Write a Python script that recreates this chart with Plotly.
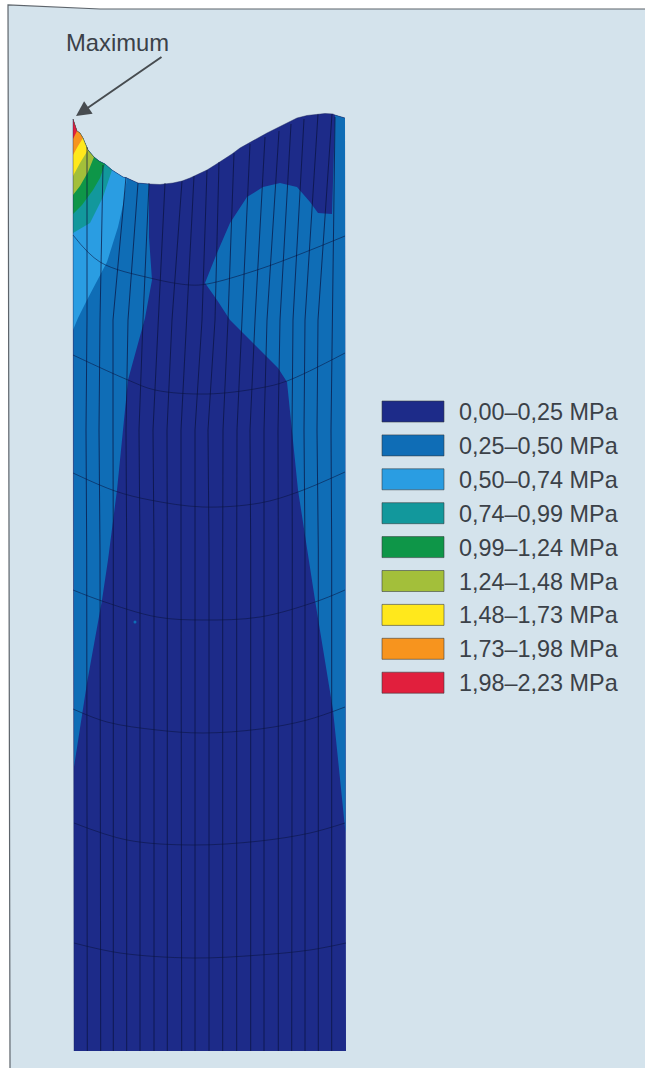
import plotly.graph_objects as go

W, H = 645, 1068
PAGE_BG = "#d4e3ec"
TEXT = "#3b4148"

LEGEND_LABELS = ["0,00–0,25 MPa", "0,25–0,50 MPa", "0,50–0,74 MPa", "0,74–0,99 MPa", "0,99–1,24 MPa",
                 "1,24–1,48 MPa", "1,48–1,73 MPa", "1,73–1,98 MPa", "1,98–2,23 MPa"]
BAND_COLORS = ["#1d2b89", "#0f6db6", "#2a9de2", "#12989c", "#0e9648",
               "#a3bf3a", "#ffe81c", "#f7941e", "#e11f3d"]

# Upper edge of the deformed section
OUT_X = [73, 75, 77, 80, 83, 88, 94, 99, 105, 112, 118, 123, 127, 138, 149, 160, 173, 182, 190, 199, 207, 215, 223,
         232, 240, 249, 257, 267, 277, 287, 297, 307, 317, 325, 333, 335, 345]
OUT_Y = [119, 125, 131, 133, 138, 150, 157, 161, 164, 170, 174, 177, 178, 183, 184, 184.5, 183, 181, 178, 174, 170,
         165, 160, 154, 148, 143, 138, 133, 128, 123, 118, 115.5, 114, 113.5, 114, 115, 118]
# Outer section, lower edge (left bottom, right bottom)
BOTTOM_X = [346, 74]
BOTTOM_Y = [1051, 1051]

# Stress-band borders: index of the upper-edge point where each begins, then the lower border
RED_END, RED_X, RED_Y = 3, [73], [139]
ORANGE_END, ORANGE_X, ORANGE_Y = 5, [78, 73], [146, 155]
YELLOW_END, YELLOW_X, YELLOW_Y = 6, [80, 73], [163, 176]
LIME_END, LIME_X, LIME_Y = 7, [88, 80, 73], [172, 186, 195]
GREEN_END, GREEN_X, GREEN_Y = 9, [100, 93, 82, 73], [178, 190, 205, 214]
TEAL_END, TEAL_X, TEAL_Y = 10, [108, 103, 90, 73], [182, 197, 223, 233]
LIGHT_END, LIGHT_X, LIGHT_Y = 13, [123, 118, 107, 87, 78, 73], [205, 227, 262, 300, 318, 330]
BLUE_L_END = 15
BLUE_L_X = [149, 149, 152, 148, 145, 128, 117, 108, 102, 87, 74]
BLUE_L_Y = [184, 237, 280, 300, 318, 380, 490, 560, 600, 683, 767]
# Right-hand band, clockwise from the top-right sliver
BLUE_R_X = [335, 345, 345.5, 342, 333, 315, 307, 298, 287, 278, 253, 230, 217, 205, 217, 230, 247, 263, 280, 297, 310,
            318, 332]
BLUE_R_Y = [115, 118, 833, 800, 710, 600, 550, 490, 382, 368, 343, 320, 300, 283, 253, 223, 197, 187, 183, 187, 202,
            213, 214]

# Mesh: 19 long lines, x read at y of the upper edge, 320, 430, 550, 1051
MESH_TOP_X = [87, 103, 126, 138, 149, 165, 182, 194, 207, 219, 234, 250, 265, 279, 291, 304, 318, 332, 335]
MESH_TOP_Y = [147, 165, 177, 183, 183, 183, 181, 176, 170, 162, 153, 144, 137, 131, 124, 119, 114, 114, 117]
MESH_320_X = [87, 100, 113, 128, 143, 158, 172, 187, 202, 215, 228, 242, 255, 267, 280, 293, 305, 318, 332]
MESH_430_X = [86, 99, 113, 126, 139, 153, 167, 181, 195, 208, 223, 237, 250, 264, 278, 292, 304, 317, 331]
MESH_550_X = [86.7, 100, 113.3, 126.7, 140, 154, 167.3, 181, 195, 209, 222.7, 236.7, 250.7, 264, 278.3, 292.3, 305,
              318.3, 331.7]
MESH_BOT_X = [87.3, 100.7, 113.3, 126.7, 140, 154, 167.3, 181.7, 195, 209, 222.7, 236.7, 250.7, 264, 278.3, 291.7,
              305, 318.3, 331.7]
MESH_LEVEL_Y = [320, 430, 550, 1051]

# Mesh: 7 cross arcs
ARCS_X = [
    [73, 100, 150, 190, 207, 257, 303, 345],
    [73, 128, 155, 207, 260, 287, 345],
    [73, 115, 150, 203, 260, 298, 345],
    [73, 102, 157, 203, 260, 315, 345],
    [73, 107, 157, 203, 260, 307, 345],
    [74, 127, 193, 260, 310, 345],
    [74, 120, 193, 260, 310, 346],
]
ARCS_Y = [
    [235, 262, 278, 285, 284, 270, 253, 236],
    [355, 380, 390, 394, 388, 381, 353],
    [473, 491, 500, 507, 503, 492, 472],
    [590, 601, 617, 620, 617, 602, 590],
    [709, 722, 730, 733, 729, 720, 707],
    [823, 840, 845, 841, 833, 823],
    [943, 953, 958, 955, 950, 943],
]

# Scanned page area and its visible top and left edges
PAGE_X = [8, 100, 645, 645, 10]
PAGE_Y = [5, 9, 9, 1068, 1068]
PAGE_EDGE_X = [10, 8, 100, 645]
PAGE_EDGE_Y = [1068, 5, 9, 9]

# A stray blue fleck in the navy area
FLECK_X, FLECK_Y = [135], [622]

fig = go.Figure()


def poly(xs, ys, color, line=None, width=0):
    fig.add_trace(go.Scatter(x=xs, y=ys, mode="lines", fill="toself", fillcolor=color,
                             line=dict(color=line or color, width=width), hoverinfo="skip", showlegend=False))


poly(PAGE_X, PAGE_Y, PAGE_BG)
fig.add_trace(go.Scatter(x=PAGE_EDGE_X, y=PAGE_EDGE_Y, mode="lines", line=dict(color="#5d646b", width=1.2),
                         hoverinfo="skip", showlegend=False))
poly(OUT_X + BOTTOM_X + [73], OUT_Y + BOTTOM_Y + [119], BAND_COLORS[0])
poly(OUT_X[:BLUE_L_END] + BLUE_L_X, OUT_Y[:BLUE_L_END] + BLUE_L_Y, BAND_COLORS[1])
poly(BLUE_R_X, BLUE_R_Y, BAND_COLORS[1])
for end, bx, by, col in [
    (LIGHT_END, LIGHT_X, LIGHT_Y, BAND_COLORS[2]),
    (TEAL_END, TEAL_X, TEAL_Y, BAND_COLORS[3]),
    (GREEN_END, GREEN_X, GREEN_Y, BAND_COLORS[4]),
    (LIME_END, LIME_X, LIME_Y, BAND_COLORS[5]),
    (YELLOW_END, YELLOW_X, YELLOW_Y, BAND_COLORS[6]),
    (ORANGE_END, ORANGE_X, ORANGE_Y, BAND_COLORS[7]),
    (RED_END, RED_X, RED_Y, BAND_COLORS[8]),
]:
    poly(OUT_X[:end] + bx, OUT_Y[:end] + by, col)

MESH = "rgba(10,18,62,0.8)"
ARC = "rgba(10,18,62,0.6)"
for i in range(len(MESH_TOP_X)):
    fig.add_trace(go.Scatter(
        x=[MESH_TOP_X[i], MESH_320_X[i], MESH_430_X[i], MESH_550_X[i], MESH_BOT_X[i]],
        y=[MESH_TOP_Y[i]] + MESH_LEVEL_Y,
        mode="lines", line=dict(color=MESH, width=0.9), hoverinfo="skip", showlegend=False))
for ax, ay in zip(ARCS_X, ARCS_Y):
    fig.add_trace(go.Scatter(x=ax, y=ay, mode="lines", line=dict(color=ARC, width=0.9, shape="spline"),
                             hoverinfo="skip", showlegend=False))
fig.add_trace(go.Scatter(x=FLECK_X, y=FLECK_Y, mode="markers", marker=dict(color=BAND_COLORS[1], size=3),
                         hoverinfo="skip", showlegend=False))
# Edge of the section
fig.add_trace(go.Scatter(x=OUT_X, y=OUT_Y, mode="lines", line=dict(color="rgba(25,35,90,0.55)", width=0.8),
                         hoverinfo="skip", showlegend=False))
fig.add_trace(go.Scatter(x=[73, 74], y=[119, 1051], mode="lines", line=dict(color="rgba(25,35,90,0.5)", width=0.8),
                         hoverinfo="skip", showlegend=False))

# Legend
SW_L, SW_R, SW_TOP, SW_H, SW_STEP = 382, 444, 401, 21, 33.9
annotations = []
for i, (lab, col) in enumerate(zip(LEGEND_LABELS, BAND_COLORS)):
    t = SW_TOP + i * SW_STEP
    poly([SW_L, SW_R, SW_R, SW_L, SW_L], [t, t, t + SW_H, t + SW_H, t], col, "rgba(50,55,60,0.7)", 0.8)
    annotations.append(dict(x=458, y=t + SW_H / 2 + 0.5, xref="x", yref="y", text=lab, showarrow=False,
                            xanchor="left", yanchor="middle", xshift=-1,
                            font=dict(family="Liberation Sans", size=23.4, color=TEXT)))

annotations.append(dict(x=65, y=42, xref="x", yref="y", text="Maximum", showarrow=False, xanchor="left",
                        yanchor="middle", xshift=-1, font=dict(family="Liberation Sans", size=23.8, color=TEXT)))
annotations.append(dict(x=76, y=116, ax=163, ay=56, xref="x", yref="y", axref="x", ayref="y", text="",
                        showarrow=True, arrowhead=2, arrowsize=1.5, arrowwidth=2, arrowcolor="#474c50"))

fig.update_layout(
    width=W, height=H, margin=dict(l=0, r=0, t=0, b=0), paper_bgcolor="white", plot_bgcolor="white",
    xaxis=dict(range=[0, W], visible=False, fixedrange=True),
    yaxis=dict(range=[H, 0], visible=False, fixedrange=True),
    annotations=annotations, showlegend=False,
)
fig.write_html("out.html", config={"displayModeBar": False},
               post_script="document.documentElement.style.margin='0';document.body.style.margin='0';document.body.style.overflow='hidden';")
